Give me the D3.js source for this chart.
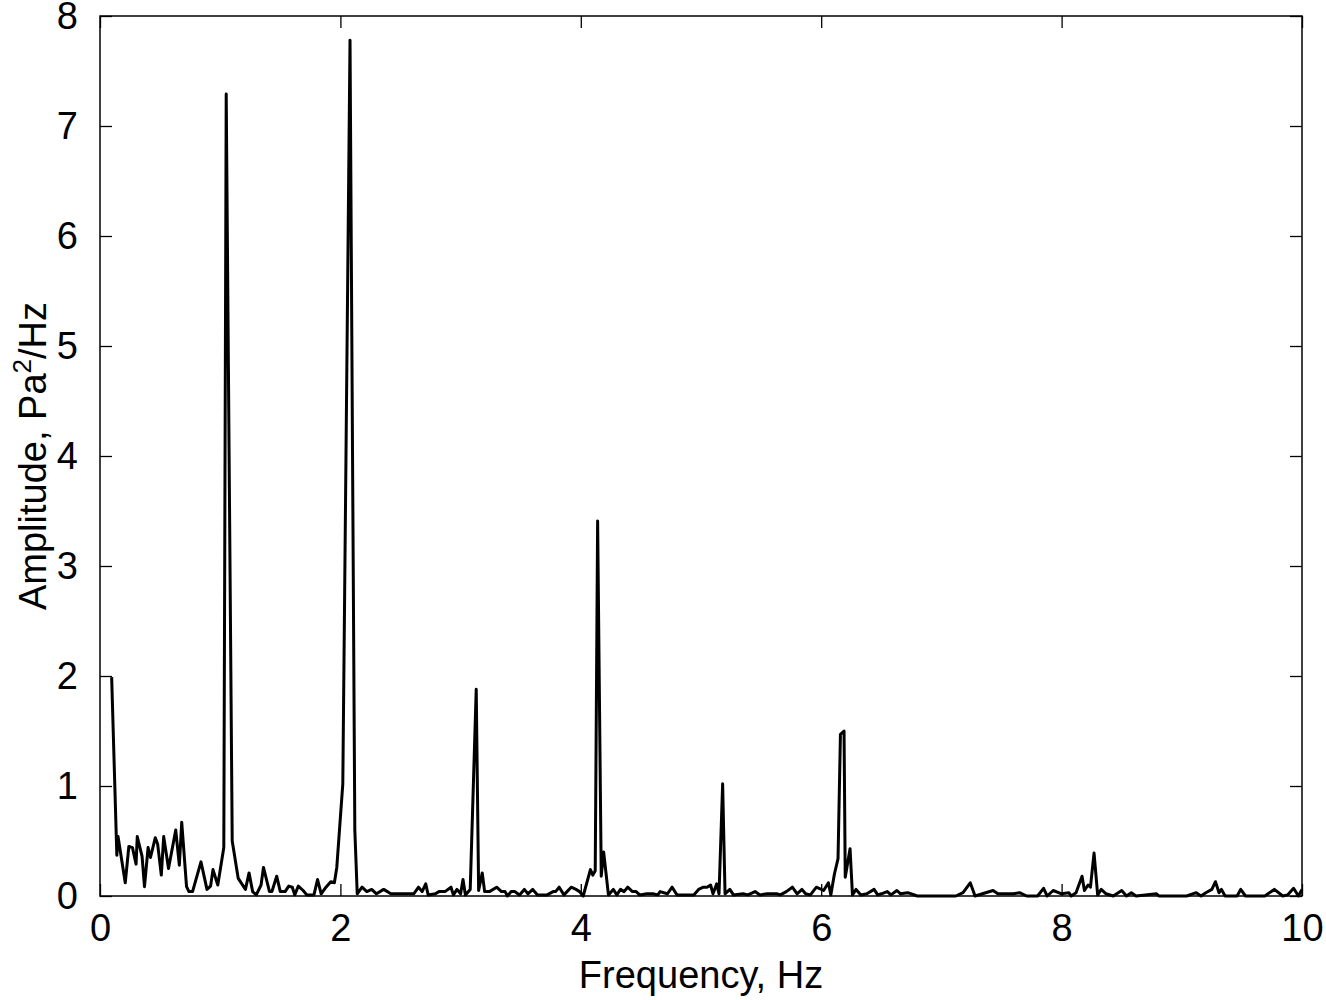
<!DOCTYPE html>
<html>
<head>
<meta charset="utf-8">
<script src="https://cdn.jsdelivr.net/npm/d3@7"></script>
<style>
  body { margin: 0; background: #fff; }
  text { font-family: "Liberation Sans", Arial, sans-serif; }
</style>
</head>
<body>
<svg id="chart" width="1326" height="1000"></svg>
<script>
// spectrum: frequency (Hz) and amplitude (Pa^2/Hz)
var freq = [0.097,0.14,0.15,0.21,0.24,0.27,0.30,0.31,0.35,0.37,0.40,0.42,0.46,0.48,0.51,0.53,0.57,0.63,0.66,0.68,0.72,0.74,0.77,0.84,0.89,0.92,0.94,0.98,1.03,1.05,1.10,1.15,1.21,1.24,1.27,1.30,1.34,1.36,1.41,1.43,1.47,1.50,1.54,1.57,1.60,1.62,1.65,1.69,1.72,1.78,1.81,1.84,1.88,1.92,1.95,1.97,2.02,2.08,2.12,2.14,2.18,2.22,2.26,2.30,2.36,2.42,2.61,2.65,2.68,2.71,2.73,2.79,2.82,2.87,2.92,2.94,2.97,3.00,3.02,3.04,3.08,3.13,3.15,3.18,3.20,3.24,3.30,3.34,3.37,3.39,3.42,3.45,3.49,3.53,3.56,3.60,3.64,3.72,3.77,3.79,3.82,3.86,3.92,3.96,3.99,4.02,4.08,4.10,4.12,4.14,4.17,4.19,4.23,4.27,4.30,4.33,4.36,4.39,4.43,4.46,4.49,4.55,4.60,4.64,4.66,4.72,4.76,4.80,4.94,4.98,5.02,5.05,5.08,5.10,5.13,5.15,5.18,5.20,5.24,5.27,5.35,5.39,5.45,5.49,5.55,5.59,5.63,5.66,5.71,5.76,5.80,5.84,5.87,5.91,5.96,6.02,6.06,6.08,6.11,6.14,6.16,6.19,6.20,6.24,6.26,6.29,6.33,6.38,6.44,6.47,6.50,6.55,6.58,6.63,6.66,6.72,6.80,7.12,7.18,7.24,7.28,7.43,7.47,7.60,7.65,7.71,7.80,7.85,7.88,7.93,8.00,8.06,8.08,8.12,8.17,8.19,8.22,8.24,8.27,8.30,8.33,8.37,8.43,8.50,8.54,8.58,8.62,8.79,8.81,9.04,9.12,9.16,9.20,9.25,9.28,9.31,9.33,9.36,9.46,9.49,9.53,9.69,9.77,9.84,9.88,9.93,9.97,10.0];
var amp = [1.99,0.37,0.54,0.12,0.45,0.44,0.29,0.54,0.36,0.085,0.44,0.35,0.53,0.47,0.19,0.54,0.25,0.60,0.28,0.67,0.085,0.04,0.04,0.31,0.06,0.09,0.24,0.10,0.44,7.29,0.50,0.16,0.06,0.21,0.04,0.01,0.10,0.26,0.04,0.04,0.18,0.04,0.04,0.09,0.08,0.01,0.09,0.05,0.01,0.01,0.15,0.02,0.08,0.13,0.12,0.26,1.02,7.78,0.60,0.02,0.08,0.04,0.06,0.02,0.06,0.02,0.02,0.08,0.04,0.11,0.01,0.02,0.04,0.04,0.08,0.01,0.06,0.02,0.15,0.01,0.06,1.88,0.05,0.21,0.04,0.04,0.08,0.04,0.04,0.0,0.04,0.04,0.01,0.06,0.02,0.06,0.01,0.01,0.04,0.04,0.08,0.01,0.08,0.06,0.04,0.0,0.24,0.19,0.23,3.41,0.18,0.40,0.01,0.06,0.01,0.06,0.04,0.08,0.04,0.04,0.01,0.02,0.02,0.01,0.04,0.02,0.08,0.01,0.01,0.06,0.08,0.08,0.10,0.02,0.11,0.02,1.02,0.02,0.06,0.01,0.02,0.01,0.04,0.01,0.02,0.02,0.02,0.01,0.04,0.08,0.02,0.06,0.02,0.01,0.08,0.05,0.12,0.01,0.20,0.34,1.47,1.50,0.17,0.43,0.01,0.06,0.01,0.02,0.06,0.01,0.02,0.04,0.01,0.05,0.02,0.03,0.0,0.0,0.03,0.12,0.0,0.05,0.02,0.02,0.03,0.0,0.0,0.07,0.0,0.05,0.02,0.03,0.0,0.03,0.18,0.05,0.10,0.08,0.39,0.01,0.06,0.02,0.0,0.05,0.0,0.03,0.0,0.02,0.0,0.0,0.03,0.0,0.03,0.06,0.13,0.03,0.06,0.0,0.0,0.06,0.0,0.0,0.06,0.0,0.01,0.07,0.0,0.06];
var xTicks = [0, 2, 4, 6, 8, 10];
var yTicks = [0, 1, 2, 3, 4, 5, 6, 7, 8];

var pLeft = 100, pRight = 1302, pTop = 16, pBottom = 896;
var svg = d3.select("#chart");

var x = d3.scaleLinear().domain([0, 10]).range([pLeft, pRight]);
var y = d3.scaleLinear().domain([0, 8]).range([pBottom, pTop]);

var tl = 12;
// ticks inside, on all four sides
svg.append("g").attr("transform", "translate(0," + pBottom + ")")
  .call(d3.axisBottom(x).tickValues(xTicks).tickSizeInner(-tl).tickSizeOuter(0).tickPadding(tl + 6))
  .call(g => g.select(".domain").remove());
svg.append("g").attr("transform", "translate(0," + pTop + ")")
  .call(d3.axisTop(x).tickValues(xTicks).tickSizeInner(-tl).tickSizeOuter(0).tickFormat(""))
  .call(g => g.select(".domain").remove());
svg.append("g").attr("transform", "translate(" + pLeft + ",0)")
  .call(d3.axisLeft(y).tickValues(yTicks).tickSizeInner(-tl).tickSizeOuter(0).tickPadding(tl + 10))
  .call(g => g.select(".domain").remove());
svg.append("g").attr("transform", "translate(" + pRight + ",0)")
  .call(d3.axisRight(y).tickValues(yTicks).tickSizeInner(-tl).tickSizeOuter(0).tickFormat(""))
  .call(g => g.select(".domain").remove());

svg.selectAll(".tick line").attr("stroke", "#000").attr("stroke-width", 1.3);
svg.selectAll(".tick text")
  .attr("font-size", 38).attr("fill", "#000")
  .style("font-family", "Liberation Sans, Arial, sans-serif");

// box
svg.append("rect")
  .attr("x", pLeft).attr("y", pTop)
  .attr("width", pRight - pLeft).attr("height", pBottom - pTop)
  .attr("fill", "none").attr("stroke", "#000").attr("stroke-width", 1.5);

// spectrum
var pts = freq.map((f, i) => [f, amp[i]]);
svg.append("path")
  .datum(pts)
  .attr("d", d3.line().x(d => x(d[0])).y(d => y(d[1])))
  .attr("fill", "none").attr("stroke", "#000").attr("stroke-width", 3)
  .attr("stroke-linejoin", "round");

// labels
svg.append("text")
  .attr("x", (pLeft + pRight) / 2).attr("y", 988)
  .attr("text-anchor", "middle").attr("font-size", 38)
  .text("Frequency, Hz");

var yl = svg.append("text")
  .attr("transform", "translate(46," + ((pTop + pBottom) / 2) + ") rotate(-90)")
  .attr("text-anchor", "middle").attr("font-size", 38);
yl.append("tspan").text("Amplitude, Pa");
yl.append("tspan").attr("dy", -15).attr("font-size", 26).text("2");
yl.append("tspan").attr("dy", 15).text("/Hz");
</script>
</body>
</html>
